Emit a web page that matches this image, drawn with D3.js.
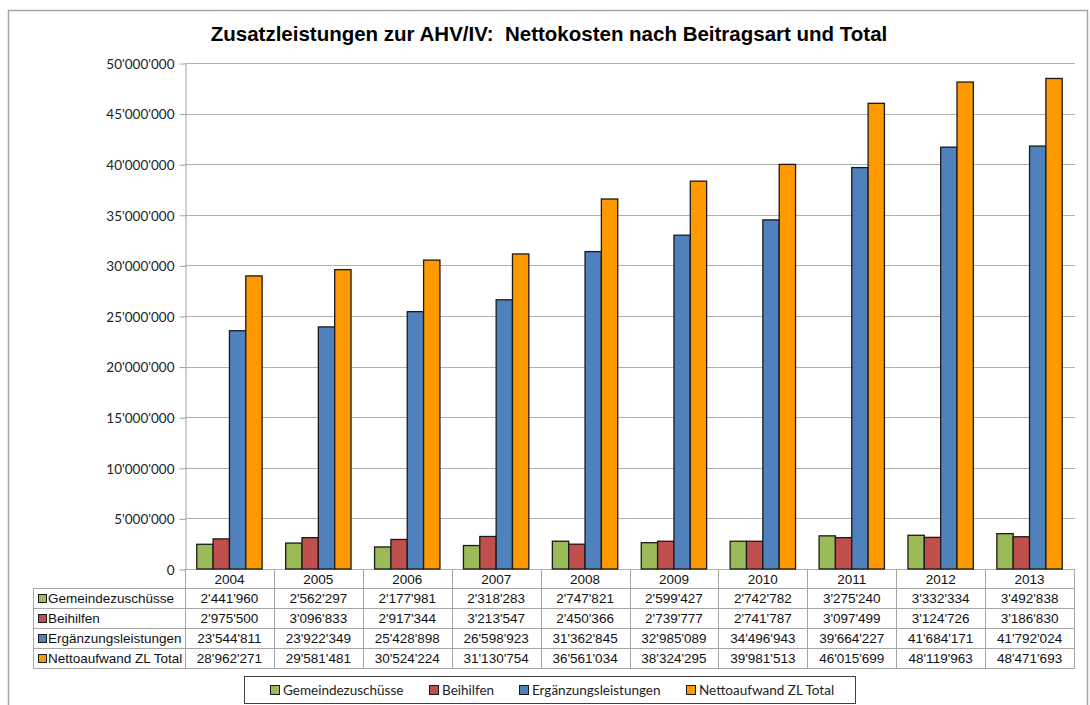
<!DOCTYPE html>
<html>
<head>
<meta charset="utf-8">
<script src="https://d3js.org/d3.v7.min.js"></script>
<style>
  body { margin: 0; background: #fff; }
</style>
</head>
<body>
<div id="chart"></div>
<script>
// data
var years = ["2004","2005","2006","2007","2008","2009","2010","2011","2012","2013"];
var seriesNames = ["Gemeindezuschüsse","Beihilfen","Ergänzungsleistungen","Nettoaufwand ZL Total"];
var gemeinde = [2441960,2562297,2177981,2318283,2747821,2599427,2742782,3275240,3332334,3492838];
var beihilfen = [2975500,3096833,2917344,3213547,2450366,2739777,2741787,3097499,3124726,3186830];
var ergaenzung = [23544811,23922349,25428898,26598923,31362845,32985089,34496943,39664227,41684171,41792024];
var netto = [28962271,29581481,30524224,31130754,36561034,38324295,39981513,46015699,48119963,48471693];
var yTicks = [0,5000000,10000000,15000000,20000000,25000000,30000000,35000000,40000000,45000000,50000000];

var seriesValues = [gemeinde, beihilfen, ergaenzung, netto];
var colors = ["#9BBB59","#C0504D","#4F81BD","#FF9900"];

var W = 1090, H = 705;
var svg = d3.select("#chart").append("svg").attr("width", W).attr("height", H);

// outer frame
svg.append("rect").attr("x", 8.5).attr("y", 10.5).attr("width", 1079).attr("height", 700)
  .attr("fill", "#fff").attr("stroke", "#a6a6a6").attr("stroke-width", 1.5);

svg.append("text").attr("x", 549).attr("y", 41).attr("text-anchor", "middle")
  .style("font-family", "Liberation Sans, Arial").style("font-weight", "bold").style("font-size", "20.5px")
  .style("white-space", "pre").attr("fill", "#000")
  .text("Zusatzleistungen zur AHV/IV:  Nettokosten nach Beitragsart und Total");

var plotLeft = 185, plotRight = 1074, plotTop = 63, plotBottom = 569;

var x0 = d3.scaleBand().domain(years).range([plotLeft, plotRight]).padding(0);
var x1 = d3.scaleBand().domain(d3.range(4)).range([0, x0.bandwidth()]).paddingInner(0).paddingOuter(0.72);
var y = d3.scaleLinear().domain([0, 50000000]).range([plotBottom, plotTop]);

var fmt = function(v) { return d3.format(",")(v).replace(/,/g, "'"); };

// gridlines (including the zero line, top of the table)
svg.append("g").selectAll("line").data(yTicks).enter().append("line")
  .attr("x1", plotLeft).attr("x2", plotRight + 1)
  .attr("y1", function(d) { return Math.round(y(d)) + 0.5; })
  .attr("y2", function(d) { return Math.round(y(d)) + 0.5; })
  .attr("stroke", "#b0b0b0").attr("stroke-width", 1);

// y axis
var yAxis = d3.axisLeft(y).tickValues(yTicks).tickSize(6).tickSizeOuter(0).tickFormat(fmt);
var gy = svg.append("g").attr("transform", "translate(" + (plotLeft + 0.5) + ",0.5)").call(yAxis);
gy.select(".domain").attr("stroke", "#a0a0a0");
gy.selectAll(".tick line").attr("stroke", "#a0a0a0");
gy.selectAll(".tick text").attr("x", -11).attr("dy", "0.35em")
  .style("font-family", "Lato, Open Sans, sans-serif").style("font-size", "13.5px").attr("fill", "#222");

// bars
var groups = svg.append("g").selectAll("g").data(years).enter().append("g")
  .attr("transform", function(d) { return "translate(" + x0(d) + ",0)"; });
groups.selectAll("rect").data(function(d, i) { return seriesValues.map(function(s, k) { return { k: k, v: s[i] }; }); })
  .enter().append("rect")
  .attr("x", function(d) { return x1(d.k); })
  .attr("width", x1.bandwidth())
  .attr("y", function(d) { return y(d.v); })
  .attr("height", function(d) { return plotBottom - y(d.v); })
  .attr("fill", function(d) { return colors[d.k]; })
  .attr("stroke", "#1a1a1a").attr("stroke-width", 1.3);

// data table
var tableLeft = 33, rowH = 20, headTop = 569, headH = 19;
var tableBottom = headTop + headH + 4 * rowH;
var grid = svg.append("g").attr("stroke", "#a6a6a6").attr("stroke-width", 1).attr("fill", "none");
for (var r = 0; r <= 4; r++) {
  var yy = headTop + headH + r * rowH + 0.5;
  grid.append("line").attr("x1", tableLeft).attr("x2", plotRight + 1).attr("y1", yy).attr("y2", yy);
}
years.forEach(function(yr) {
  var xx = Math.round(x0(yr)) + 0.5;
  grid.append("line").attr("x1", xx).attr("x2", xx).attr("y1", headTop).attr("y2", tableBottom + 0.5);
});
grid.append("line").attr("x1", plotRight + 0.5).attr("x2", plotRight + 0.5).attr("y1", headTop).attr("y2", tableBottom + 0.5);
grid.append("line").attr("x1", tableLeft + 0.5).attr("x2", tableLeft + 0.5).attr("y1", headTop + headH).attr("y2", tableBottom + 0.5);

var tableFont = function(sel) {
  sel.style("font-family", "Liberation Sans, Arial").style("font-size", "13.5px").attr("fill", "#111");
};

// year headers
svg.append("g").selectAll("text").data(years).enter().append("text")
  .attr("x", function(d) { return x0(d) + x0.bandwidth() / 2; })
  .attr("y", headTop + 15)
  .attr("text-anchor", "middle")
  .call(tableFont)
  .text(function(d) { return d; });

// rows
seriesNames.forEach(function(name, k) {
  var ry = headTop + headH + k * rowH;
  svg.append("rect").attr("x", tableLeft + 5.5).attr("y", ry + 6.5).attr("width", 8).attr("height", 8)
    .attr("fill", colors[k]).attr("stroke", "#1a1a1a").attr("stroke-width", 1);
  svg.append("text").attr("x", tableLeft + 15).attr("y", ry + 15)
    .call(tableFont)
    .text(name);
  svg.append("g").selectAll("text").data(seriesValues[k]).enter().append("text")
    .attr("x", function(d, i) { return x0(years[i]) + x0.bandwidth() / 2; })
    .attr("y", ry + 15)
    .attr("text-anchor", "middle")
    .call(tableFont)
    .text(function(d) { return fmt(d); });
});

// legend
var lg = svg.append("g");
lg.append("rect").attr("x", 244.5).attr("y", 676.5).attr("width", 611).attr("height", 27)
  .attr("fill", "#fff").attr("stroke", "#404040").attr("stroke-width", 1);
var legendX = [270, 429, 519, 686];
seriesNames.forEach(function(name, k) {
  lg.append("rect").attr("x", legendX[k] + 0.5).attr("y", 685.5).attr("width", 9).attr("height", 9)
    .attr("fill", colors[k]).attr("stroke", "#1a1a1a").attr("stroke-width", 1);
  lg.append("text").attr("x", legendX[k] + 13).attr("y", 695)
    .style("font-family", "Lato, Open Sans, sans-serif").style("font-size", "13.5px").attr("fill", "#222")
    .text(name);
});
</script>
</body>
</html>
